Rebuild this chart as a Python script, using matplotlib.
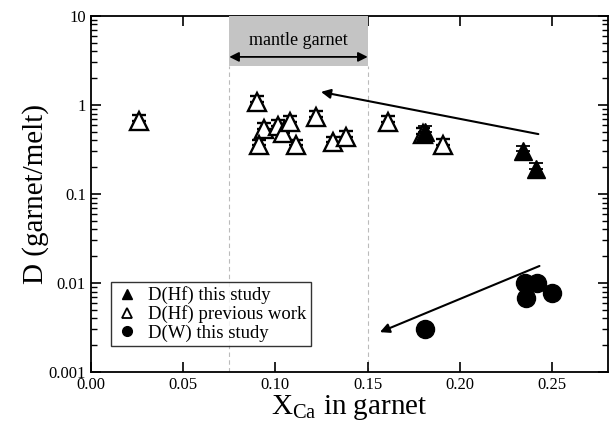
import numpy as np
import matplotlib.pyplot as plt
from matplotlib.lines import Line2D
from matplotlib.ticker import FixedLocator, LogLocator, NullFormatter

plt.rcParams['font.family'] = ['Liberation Serif', 'DejaVu Serif']

# D(Hf) previous work (open triangles)
prev_x = [0.026, 0.090, 0.094, 0.091, 0.1015, 0.104, 0.108, 0.111, 0.122, 0.131, 0.138, 0.161, 0.180, 0.191]
prev_d = [0.66, 1.08, 0.54, 0.35, 0.58, 0.48, 0.65, 0.35, 0.73, 0.38, 0.44, 0.65, 0.47, 0.355]

# D(Hf) this study (filled triangles)
hf_x = [0.181, 0.234, 0.241]
hf_d = [0.50, 0.30, 0.19]

# D(W) this study (filled circles)
w_x = [0.181, 0.235, 0.2415, 0.2355, 0.250]
w_d = [0.0030, 0.0100, 0.0100, 0.0068, 0.0078]

# trend arrows (start, end)
hf_arrow = [(0.2424, 0.47), (0.1247, 1.40)]
w_arrow = [(0.243, 0.0155), (0.1566, 0.0028)]

# mantle garnet range
mantle_lo, mantle_hi = 0.075, 0.15

fig = plt.figure(figsize=(6.09, 4.29), dpi=100)
ax = fig.add_axes([0.149, 0.133, 0.849, 0.830])
ax.set_yscale('log')
ax.set_xlim(0, 0.28)
ax.set_ylim(0.001, 10)

# shaded box + dashed bounds
ax.fill_between([mantle_lo, mantle_hi], 2.74, 10, color='#c4c4c4', lw=0, zorder=5, clip_on=False)
for xv in (mantle_lo, mantle_hi):
    ax.plot([xv, xv], [0.001, 2.74], ls=(0, (4, 3)), color='#bbbbbb', lw=0.8, zorder=1)
ax.annotate('', xy=(mantle_lo, 3.46), xytext=(mantle_hi, 3.46),
            arrowprops=dict(arrowstyle='<|-|>', color='black', lw=1.3, mutation_scale=14,
                            shrinkA=0, shrinkB=0), zorder=6)
ax.text((mantle_lo + mantle_hi) / 2, 5.3, 'mantle garnet', ha='center', va='center',
        fontsize=13, zorder=6)

# data (small upward error caps at apex)
ms = 13
err = 0.16
ax.errorbar(prev_x, prev_d, yerr=[np.zeros(len(prev_d)), err * np.array(prev_d)],
            fmt='^', ms=ms, mfc='white', mec='black', mew=1.7, ecolor='black',
            elinewidth=1.2, capsize=5, capthick=1.3, zorder=3)
ax.errorbar(hf_x, hf_d, yerr=[np.zeros(len(hf_d)), err * np.array(hf_d)],
            fmt='^', ms=ms, mfc='black', mec='black', ecolor='black',
            elinewidth=1.2, capsize=5, capthick=1.3, zorder=4)
ax.plot(w_x, w_d, 'o', ms=13, color='black', zorder=4)

for (x0, y0), (x1, y1) in (hf_arrow, w_arrow):
    ax.annotate('', xy=(x1, y1), xytext=(x0, y0),
                arrowprops=dict(arrowstyle='-|>', color='black', lw=1.5, mutation_scale=14,
                                shrinkA=0, shrinkB=0))

# legend
handles = [Line2D([], [], ls='none', marker='^', ms=7, mfc='black', mec='black'),
           Line2D([], [], ls='none', marker='^', ms=7, mfc='white', mec='black', mew=1.3),
           Line2D([], [], ls='none', marker='o', ms=7, mfc='black', mec='black')]
labels = ['D(Hf) this study', 'D(Hf) previous work', 'D(W) this study']
leg = ax.legend(handles, labels, loc='lower left', bbox_to_anchor=(0.04, 0.072),
                fontsize=13.5, frameon=True, fancybox=False, edgecolor='black',
                handlelength=1.2, handletextpad=0.5, borderpad=0.25, labelspacing=0.05,
                borderaxespad=0)
leg.get_frame().set_linewidth(1.0)
leg.set_zorder(7)

# ticks
ax.set_xticks([0.00, 0.05, 0.10, 0.15, 0.20, 0.25])
ax.set_xticklabels(['0.00', '0.05', '0.10', '0.15', '0.20', '0.25'])
ax.yaxis.set_major_locator(FixedLocator([0.001, 0.01, 0.1, 1, 10]))
ax.set_yticklabels(['0.001', '0.01', '0.1', '1', '10'])
ax.yaxis.set_minor_locator(LogLocator(base=10, subs=np.arange(2, 10)))
ax.yaxis.set_minor_formatter(NullFormatter())
ax.tick_params(which='both', direction='in', top=True, right=True, labelsize=12)
ax.tick_params(which='major', length=7, width=1.2)
ax.tick_params(which='minor', length=4, width=1.0)
ax.tick_params(axis='x', pad=4)
for s in ax.spines.values():
    s.set_linewidth(1.3)

ax.set_xlabel(r'X$_{\mathregular{Ca}}$ in garnet', fontsize=21, labelpad=0)
ax.set_ylabel('D (garnet/melt)', fontsize=21, labelpad=0)

fig.savefig('out.png', dpi=100)
